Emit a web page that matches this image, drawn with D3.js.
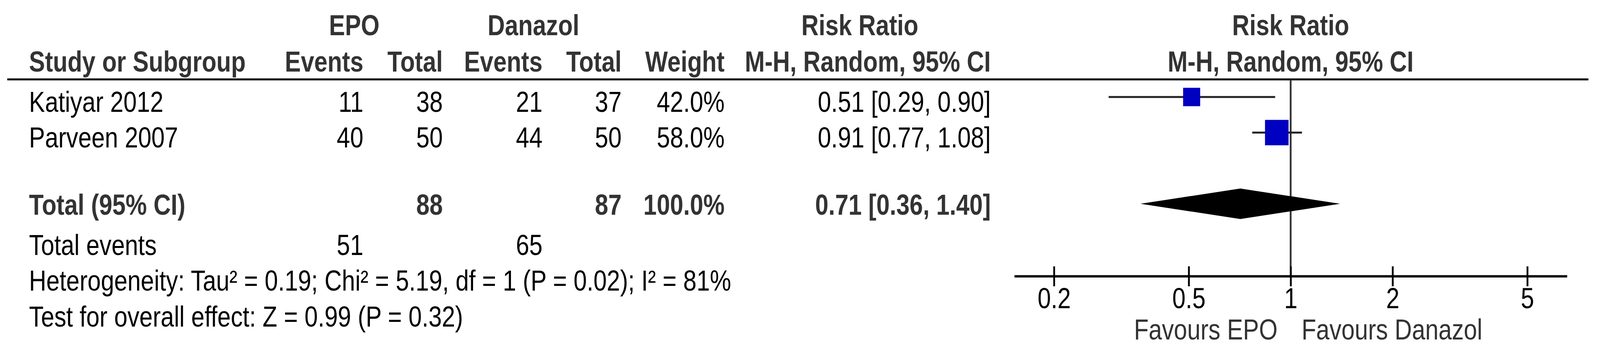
<!DOCTYPE html>
<html>
<head>
<meta charset="utf-8">
<script src="https://cdn.jsdelivr.net/npm/d3@7"></script>
<style>
  html, body { margin: 0; padding: 0; width: 100%; height: 100%; overflow: hidden; background: #fff; }
  #chart svg { display: block; width: 100vw; height: 100vh; }
  text { font-family: "Liberation Sans", Arial, sans-serif; }
</style>
</head>
<body>
<div id="chart"></div>
<script>
// study rows
var studies   = ["Katiyar 2012", "Parveen 2007"];
var epoEvents = [11, 40];
var epoTotal  = [38, 50];
var danEvents = [21, 44];
var danTotal  = [37, 50];
var weights   = [42.0, 58.0];
var rr        = [0.51, 0.91];
var rrLow     = [0.29, 0.77];
var rrHigh    = [0.90, 1.08];

// pooled result
var totalLabel   = "Total (95% CI)";
var totalN       = [88, 87];
var totalEvents  = [51, 65];
var pooled       = [0.71, 0.36, 1.40];   // estimate, low, high
var heterogeneity = "Heterogeneity: Tau\u00b2 = 0.19; Chi\u00b2 = 5.19, df = 1 (P = 0.02); I\u00b2 = 81%";
var overallTest   = "Test for overall effect: Z = 0.99 (P = 0.32)";

var tickValues = [0.2, 0.5, 1, 2, 5];
var favours = ["Favours EPO", "Favours Danazol"];

var W = 4412, H = 900;
var fs = 66, sy = 1.12;   // text looks a bit stretched vertically
var leftX = 80;
var col = { epoE: 1002, epoT: 1221, danE: 1496, danT: 1714, weight: 1998, ci: 2732 };

// drawn in a 4412x900 box that is stretched to whatever the window is
var svg = d3.select("#chart").append("svg")
    .attr("viewBox", "0 0 " + W + " " + H)
    .attr("preserveAspectRatio", "none");
svg.append("rect").attr("width", W).attr("height", H).attr("fill", "#fff");

function txt(x, y, s, anchor, bold, color) {
    return svg.append("text")
        .attr("transform", "translate(" + x + "," + y + ") scale(1," + sy + ")")
        .attr("text-anchor", anchor || "start")
        .attr("font-size", fs)
        .attr("font-weight", bold ? "bold" : "normal")
        .attr("fill", color || (bold ? "#333" : "#000"))
        .text(s);
}

// scales
var x = d3.scaleLog().domain([0.1527, 6.55]).range([2797, 4321]);
var boxSize = d3.scaleLinear().domain([0, 100]).range([0, 112]);

var rowBase = [286, 377];
var totalBase = 549;

// headers
txt(977, 90, "EPO", "middle", true);
txt(1471, 90, "Danazol", "middle", true);
txt(2371, 90, "Risk Ratio", "middle", true);
txt(x(1), 90, "Risk Ratio", "middle", true);

txt(leftX, 183, "Study or Subgroup", "start", true);
txt(col.epoE, 183, "Events", "end", true);
txt(col.epoT, 183, "Total", "end", true);
txt(col.danE, 183, "Events", "end", true);
txt(col.danT, 183, "Total", "end", true);
txt(col.weight, 183, "Weight", "end", true);
txt(col.ci, 183, "M-H, Random, 95% CI", "end", true);
txt(x(1), 183, "M-H, Random, 95% CI", "middle", true);

svg.append("line")
    .attr("x1", 20).attr("x2", 4380).attr("y1", 203).attr("y2", 203)
    .attr("stroke", "#000").attr("stroke-width", 5);

// line of no effect
svg.append("line")
    .attr("x1", x(1)).attr("x2", x(1)).attr("y1", 203).attr("y2", 706)
    .attr("stroke", "#333").attr("stroke-width", 5);

// study rows
studies.forEach(function(s, i) {
    var yb = rowBase[i];
    txt(leftX, yb, s);
    txt(col.epoE, yb, epoEvents[i], "end");
    txt(col.epoT, yb, epoTotal[i], "end");
    txt(col.danE, yb, danEvents[i], "end");
    txt(col.danT, yb, danTotal[i], "end");
    txt(col.weight, yb, weights[i].toFixed(1) + "%", "end");
    txt(col.ci, yb, rr[i].toFixed(2) + " [" + rrLow[i].toFixed(2) + ", " + rrHigh[i].toFixed(2) + "]", "end");
});

var marks = svg.append("g").selectAll("g")
    .data(studies.map(function(s, i) {
        return { y: rowBase[i] - 38, rr: rr[i], lo: rrLow[i], hi: rrHigh[i], w: weights[i] };
    }))
    .enter().append("g");

marks.append("line")
    .attr("x1", function(d) { return x(d.lo); })
    .attr("x2", function(d) { return x(d.hi); })
    .attr("y1", function(d) { return d.y; })
    .attr("y2", function(d) { return d.y; })
    .attr("stroke", "#222").attr("stroke-width", 5);

marks.append("rect")
    .attr("x", function(d) { return x(d.rr) - boxSize(d.w) / 2; })
    .attr("y", function(d) { return d.y - boxSize(d.w) / 2; })
    .attr("width", function(d) { return boxSize(d.w); })
    .attr("height", function(d) { return boxSize(d.w); })
    .attr("fill", "#0000c0");

// total row
txt(leftX, totalBase, totalLabel, "start", true);
txt(col.epoT, totalBase, totalN[0], "end", true);
txt(col.danT, totalBase, totalN[1], "end", true);
txt(col.weight, totalBase, "100.0%", "end", true);
txt(col.ci, totalBase, pooled[0].toFixed(2) + " [" + pooled[1].toFixed(2) + ", " + pooled[2].toFixed(2) + "]", "end", true);

var dy = totalBase - 28, dh = 39;
svg.append("path")
    .attr("d", "M" + x(pooled[1]) + "," + dy +
               "L" + x(pooled[0]) + "," + (dy - dh) +
               "L" + x(pooled[2]) + "," + dy +
               "L" + x(pooled[0]) + "," + (dy + dh) + "Z")
    .attr("fill", "#000");

txt(leftX, 652, "Total events");
txt(col.epoE, 652, totalEvents[0], "end");
txt(col.danE, 652, totalEvents[1], "end");
txt(leftX, 743, heterogeneity);
txt(leftX, 835, overallTest);

// axis
var axisY = 706;
var axis = svg.append("g")
    .attr("transform", "translate(0," + axisY + ")")
    .call(d3.axisBottom(x).tickValues(tickValues).tickFormat(function(d) { return d; }).tickSizeOuter(0));

axis.select(".domain").attr("stroke", "#000").attr("stroke-width", 6);
axis.selectAll(".tick line").attr("y1", -25).attr("y2", 26).attr("stroke", "#000").attr("stroke-width", 5);
axis.selectAll(".tick text")
    .attr("y", null).attr("dy", null)
    .attr("transform", "translate(0,82) scale(1," + sy + ")")
    .attr("font-size", fs)
    .attr("font-family", "'Liberation Sans', Arial, sans-serif")
    .attr("fill", "#000");

txt(x(1) - 36, 868, favours[0], "end", false, "#333");
txt(x(1) + 30, 868, favours[1], "start", false, "#333");
</script>
</body>
</html>
